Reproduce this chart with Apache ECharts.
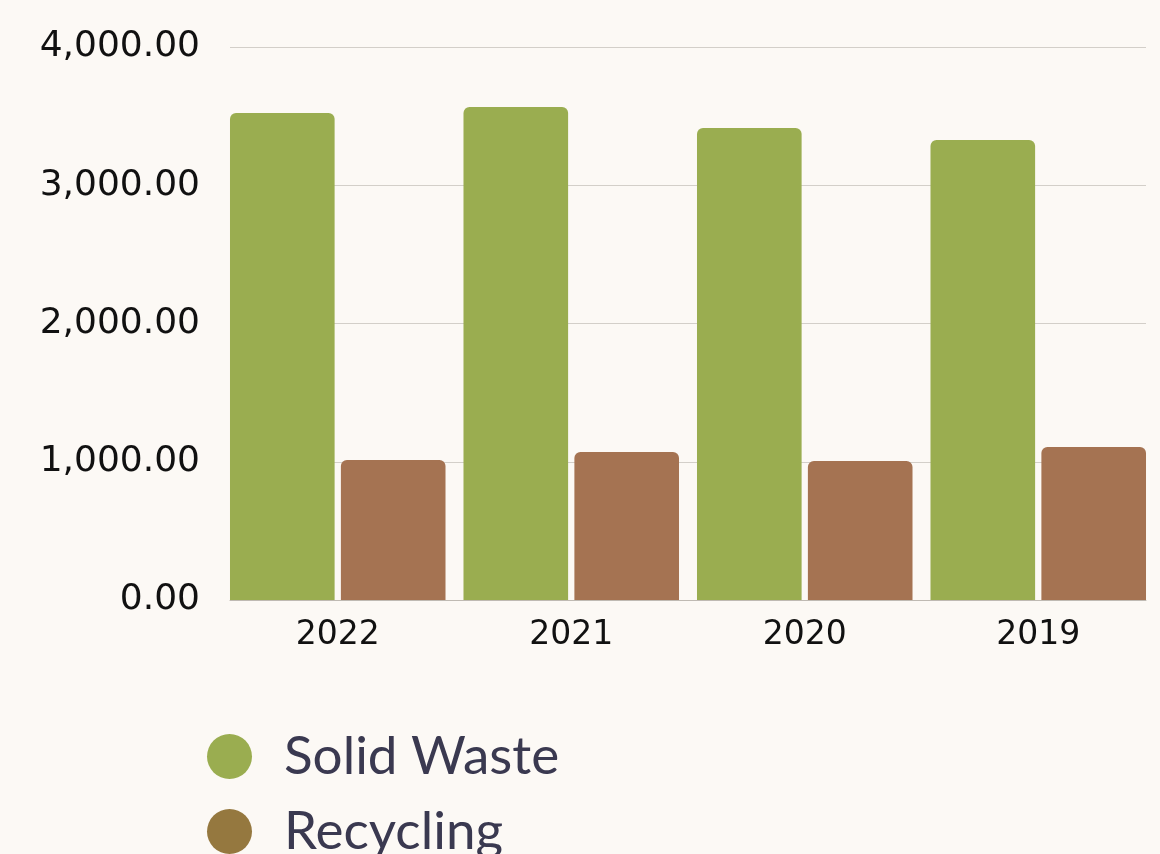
<!DOCTYPE html>
<html>
<head>
<meta charset="utf-8">
<script src="https://cdn.jsdelivr.net/npm/echarts@6/dist/echarts.min.js"></script>
<style>
  html, body { margin: 0; padding: 0; background: #fcf9f5; }
  #chart { width: 1160px; height: 854px; }
</style>
</head>
<body>
<div id="chart"></div>
<script>
// data
const years = ['2022', '2021', '2020', '2019']
const solidWaste = [3523, 3566, 3414, 3327]
const recycling = [1013, 1070, 1005, 1107]
const yTicks = { min: 0, max: 4000, step: 1000 }

const labelFont = 'DejaVu Sans'

const chart = echarts.init(document.getElementById('chart'))

const fmt = function (v) {
  return v.toLocaleString('en-US', { minimumFractionDigits: 2, maximumFractionDigits: 2 })
}

const option = {
  backgroundColor: '#fcf9f5',
  animation: false,
  grid: [
    // grid for the value axis + gridlines
    { left: 230, right: 14, top: 47, bottom: 254 },
    // grid for the bars (groups touch the plot edges)
    { left: 221, right: 5, top: 47, bottom: 254 }
  ],
  legend: {
    orient: 'vertical',
    left: 202,
    top: 725,
    height: 300, // keep it in one column, second row runs off the page
    icon: 'circle',
    itemWidth: 45,
    itemHeight: 45,
    itemGap: 22,
    textStyle: {
      fontFamily: 'Lato',
      fontSize: 53,
      color: '#3a3950',
      padding: [0, 0, 0, 27]
    },
    data: [
      { name: 'Solid Waste', itemStyle: { color: '#9aad50' } },
      { name: 'Recycling', itemStyle: { color: '#95783f' } }
    ]
  },
  xAxis: [
    {
      type: 'category',
      gridIndex: 0,
      data: years,
      axisLine: { show: true, lineStyle: { color: '#bfbab3', width: 1 } },
      axisTick: { show: false },
      axisLabel: { show: false }
    },
    {
      type: 'category',
      gridIndex: 1,
      data: years,
      axisLine: { show: false },
      axisTick: { show: false },
      axisLabel: {
        margin: 19,
        fontFamily: labelFont,
        fontSize: 33,
        color: '#111111'
      }
    }
  ],
  yAxis: [
    {
      type: 'value',
      gridIndex: 0,
      min: yTicks.min,
      max: yTicks.max,
      interval: yTicks.step,
      axisLine: { show: false },
      axisTick: { show: false },
      axisLabel: {
        margin: 30,
        fontFamily: labelFont,
        fontSize: 36,
        color: '#111111',
        formatter: fmt
      },
      splitLine: { lineStyle: { color: '#d3cfc9', width: 1 } }
    },
    {
      type: 'value',
      gridIndex: 1,
      min: yTicks.min,
      max: yTicks.max,
      interval: yTicks.step,
      show: false,
      splitLine: { show: false }
    }
  ],
  series: [
    {
      name: 'Solid Waste',
      type: 'bar',
      xAxisIndex: 1,
      yAxisIndex: 1,
      data: solidWaste,
      barGap: '6%',
      barCategoryGap: '7.7%',
      itemStyle: { color: '#9aad50', borderRadius: [6, 6, 0, 0] }
    },
    {
      name: 'Recycling',
      type: 'bar',
      xAxisIndex: 1,
      yAxisIndex: 1,
      data: recycling,
      barGap: '6%',
      barCategoryGap: '7.7%',
      itemStyle: { color: '#a57352', borderRadius: [6, 6, 0, 0] }
    }
  ]
}

chart.setOption(option)
</script>
</body>
</html>
